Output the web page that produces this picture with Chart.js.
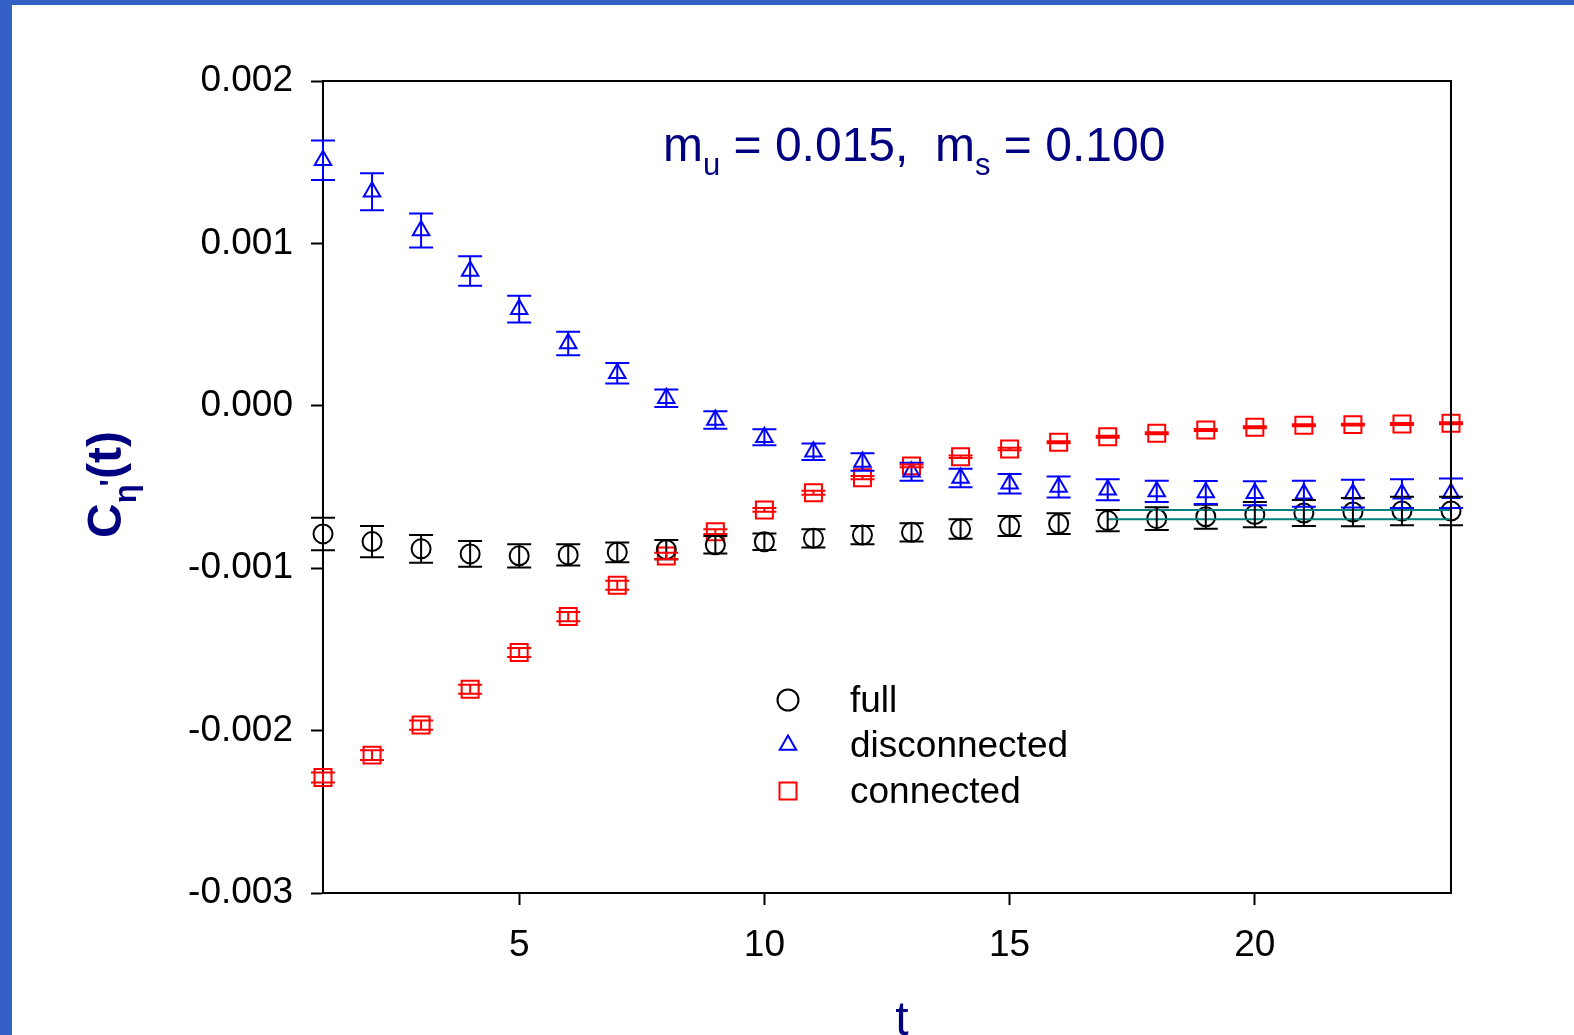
<!DOCTYPE html>
<html>
<head>
<meta charset="utf-8">
<script src="https://cdn.jsdelivr.net/npm/chart.js@4.4.0/dist/chart.umd.min.js"></script>
<style>
  html, body { margin: 0; padding: 0; background: #fff; overflow: hidden; }
  canvas { display: block; }
</style>
</head>
<body>
<canvas id="etaChart" width="1574" height="1035"></canvas>
<script>
// time slices
var tValues = [1, 2, 3, 4, 5, 6, 7, 8, 9, 10, 11, 12, 13, 14, 15, 16, 17, 18, 19, 20, 21, 22, 23, 24];

// full correlator
var fullValues = [-0.000789, -0.000836, -0.000881, -0.000912, -0.000924, -0.000918, -0.000902, -0.000886,
  -0.000856, -0.000837, -0.000816, -0.000796, -0.000779, -0.000759, -0.000740, -0.000726,
  -0.000707, -0.000695, -0.000683, -0.000670, -0.000660, -0.000654, -0.000648, -0.000648];
var fullErrors = [0.000100, 0.000096, 0.000085, 0.000079, 0.000072, 0.000066, 0.000061, 0.000059,
  0.000054, 0.000051, 0.000056, 0.000056, 0.000056, 0.000060, 0.000062, 0.000064,
  0.000066, 0.000070, 0.000074, 0.000078, 0.000080, 0.000087, 0.000088, 0.000088];

// disconnected part
var discValues = [0.001512, 0.001318, 0.001079, 0.000830, 0.000595, 0.000384, 0.000200, 0.000047,
  -0.000088, -0.000194, -0.000283, -0.000346, -0.000406, -0.000445, -0.000480, -0.000500,
  -0.000517, -0.000527, -0.000534, -0.000538, -0.000541, -0.000541, -0.000541, -0.000539];
var discErrors = [0.000122, 0.000114, 0.000105, 0.000091, 0.000082, 0.000072, 0.000063, 0.000054,
  0.000054, 0.000049, 0.000051, 0.000054, 0.000056, 0.000057, 0.000060, 0.000064,
  0.000064, 0.000066, 0.000071, 0.000074, 0.000080, 0.000085, 0.000088, 0.000091];

// connected part
var connValues = [-0.002289, -0.002151, -0.001966, -0.001745, -0.001519, -0.001298, -0.001105, -0.000925,
  -0.000775, -0.000641, -0.000535, -0.000443, -0.000370, -0.000314, -0.000266, -0.000225,
  -0.000190, -0.000169, -0.000149, -0.000132, -0.000120, -0.000116, -0.000112, -0.000108];
var connErrors = [0.000031, 0.000030, 0.000028, 0.000028, 0.000028, 0.000028, 0.000027, 0.000020,
  0.000015, 0.000012, 0.000012, 0.000010, 0.000009, 0.000008, 0.000007, 0.000006,
  0.000006, 0.000006, 0.000006, 0.000006, 0.000006, 0.000006, 0.000006, 0.000006];

// fit band for the full correlator
var fitRange = [17, 24];
var fitUpper = -0.000642;
var fitLower = -0.000699;

// axis ticks
var xTicks = [5, 10, 15, 20];
var yTicks = [-0.003, -0.002, -0.001, 0.000, 0.001, 0.002];
var yTickLabels = ['-0.003', '-0.002', '-0.001', '0.000', '0.001', '0.002'];

var NAVY = '#000080';
var FONT = "'Liberation Sans', Arial, Helvetica, sans-serif";

function points(xs, ys) {
  return xs.map(function (x, i) { return { x: x, y: ys[i] }; });
}

function markerDataset(label, values, color, style, radius) {
  return {
    label: label,
    data: points(tValues, values),
    showLine: false,
    pointStyle: style,
    pointRadius: radius,
    pointHoverRadius: radius,
    pointBorderWidth: 2,
    pointBorderColor: color,
    pointBackgroundColor: 'rgba(0,0,0,0)',
    borderColor: color,
    clip: false
  };
}

function fitDataset(value) {
  return {
    label: 'fit',
    data: points(fitRange, [value, value]),
    showLine: true,
    borderColor: '#008080',
    borderWidth: 2,
    pointRadius: 0,
    pointHoverRadius: 0,
    clip: false
  };
}

var errorSets = [
  { values: fullValues, errors: fullErrors, color: '#000000' },
  { values: discValues, errors: discErrors, color: '#0000ff' },
  { values: connValues, errors: connErrors, color: '#ff0000' }
];

function marker(ctx, style, x, y, r) {
  ctx.beginPath();
  if (style === 'circle') {
    ctx.arc(x, y, r, 0, Math.PI * 2);
  } else if (style === 'triangle') {
    ctx.moveTo(x, y - r);
    ctx.lineTo(x + r * Math.sqrt(3) / 2, y + r / 2);
    ctx.lineTo(x - r * Math.sqrt(3) / 2, y + r / 2);
    ctx.closePath();
  } else {
    var s = r * Math.SQRT1_2;
    ctx.rect(x - s, y - s, 2 * s, 2 * s);
  }
  ctx.stroke();
}

function richText(ctx, parts, x, y) {
  parts.forEach(function (p) {
    ctx.font = p[1];
    ctx.fillText(p[0], x, y + p[2]);
    x += ctx.measureText(p[0]).width;
  });
}

var decorPlugin = {
  id: 'decor',
  beforeDraw: function (chart) {
    var ctx = chart.ctx;
    ctx.save();
    ctx.fillStyle = '#ffffff';
    ctx.fillRect(0, 0, chart.width, chart.height);
    ctx.fillStyle = '#3461c6';
    ctx.fillRect(0, 0, 12, chart.height);
    ctx.fillRect(0, 0, chart.width, 5);
    ctx.restore();
  },
  afterDatasetsDraw: function (chart) {
    var ctx = chart.ctx, xs = chart.scales.x, ys = chart.scales.y;
    ctx.save();
    ctx.lineWidth = 2;
    errorSets.forEach(function (set) {
      ctx.strokeStyle = set.color;
      tValues.forEach(function (t, i) {
        var px = xs.getPixelForValue(t);
        var top = ys.getPixelForValue(set.values[i] + set.errors[i]);
        var bot = ys.getPixelForValue(set.values[i] - set.errors[i]);
        ctx.beginPath();
        ctx.moveTo(px, top); ctx.lineTo(px, bot);
        ctx.moveTo(px - 12, top); ctx.lineTo(px + 12, top);
        ctx.moveTo(px - 12, bot); ctx.lineTo(px + 12, bot);
        ctx.stroke();
      });
    });
    ctx.restore();
  },
  afterDraw: function (chart) {
    var ctx = chart.ctx, a = chart.chartArea;
    ctx.save();
    // frame top / right
    ctx.strokeStyle = '#000';
    ctx.lineWidth = 2;
    ctx.beginPath();
    ctx.moveTo(a.left, a.top); ctx.lineTo(a.right, a.top); ctx.lineTo(a.right, a.bottom);
    ctx.stroke();

    // legend
    var legend = [
      ['full', 'circle', '#000000', 10.5],
      ['disconnected', 'triangle', '#0000ff', 9.5],
      ['connected', 'rect', '#ff0000', 12]
    ];
    var ly = [700, 745, 791];
    var lb = [712, 757, 803];
    ctx.textAlign = 'left';
    ctx.textBaseline = 'alphabetic';
    legend.forEach(function (l, i) {
      ctx.strokeStyle = l[2];
      ctx.lineWidth = 2;
      marker(ctx, l[1], 788, ly[i], l[3]);
      ctx.fillStyle = '#000';
      ctx.font = '37px ' + FONT;
      ctx.fillText(l[0], 850, lb[i]);
    });

    // title
    ctx.fillStyle = NAVY;
    var big = '48px ' + FONT, small = '31px ' + FONT;
    richText(ctx, [['m', big, 0], ['u', small, 14], [' = 0.015,  m', big, 0], ['s', small, 14], [' = 0.100', big, 0]], 663, 161);

    // x title
    ctx.textAlign = 'center';
    ctx.font = '48px ' + FONT;
    ctx.fillText('t', 902, 1035);

    // y title
    ctx.textAlign = 'left';
    ctx.translate(121, 538);
    ctx.rotate(-Math.PI / 2);
    var yb = 'bold 48px ' + FONT, ys2 = 'bold 31px ' + FONT;
    ctx.font = yb;
    ctx.fillText('C', 0, 0);
    var cx = ctx.measureText('C').width;
    ctx.font = ys2;
    ctx.fillText('\u03b7', cx, 15);
    cx += ctx.measureText('\u03b7').width;
    ctx.fillText("'", cx - 2, 1);
    cx += ctx.measureText("'").width - 2;
    ctx.font = yb;
    ctx.fillText('(t)', cx, 0);
    ctx.restore();
  }
};

new Chart(document.getElementById('etaChart'), {
  type: 'scatter',
  data: {
    datasets: [
      fitDataset(fitUpper),
      fitDataset(fitLower),
      markerDataset('full', fullValues, '#000000', 'circle', 9.5),
      markerDataset('disconnected', discValues, '#0000ff', 'triangle', 9.5),
      markerDataset('connected', connValues, '#ff0000', 'rect', 12)
    ]
  },
  options: {
    responsive: false,
    animation: false,
    devicePixelRatio: 1,
    layout: { padding: { top: 81, right: 123, bottom: 0, left: 0 } },
    plugins: {
      legend: { display: false },
      tooltip: { enabled: false }
    },
    scales: {
      x: {
        type: 'linear',
        min: 1,
        max: 24,
        afterBuildTicks: function (s) { s.ticks = xTicks.map(function (v) { return { value: v }; }); },
        afterFit: function (s) { s.height = 142; },
        grid: { drawOnChartArea: false, drawTicks: true, tickLength: 12, tickColor: '#000', tickWidth: 2 },
        border: { display: true, color: '#000', width: 2 },
        ticks: { color: '#000', font: { family: FONT, size: 37 }, padding: 19, maxRotation: 0 }
      },
      y: {
        type: 'linear',
        min: -0.003,
        max: 0.002,
        afterBuildTicks: function (s) { s.ticks = yTicks.map(function (v) { return { value: v }; }); },
        afterFit: function (s) { s.width = 323; },
        grid: { drawOnChartArea: false, drawTicks: true, tickLength: 12, tickColor: '#000', tickWidth: 2 },
        border: { display: true, color: '#000', width: 2 },
        ticks: {
          color: '#000',
          font: { family: FONT, size: 37 },
          padding: 18,
          callback: function (v, i) { return yTickLabels[i]; }
        }
      }
    }
  },
  plugins: [decorPlugin]
});
</script>
</body>
</html>
